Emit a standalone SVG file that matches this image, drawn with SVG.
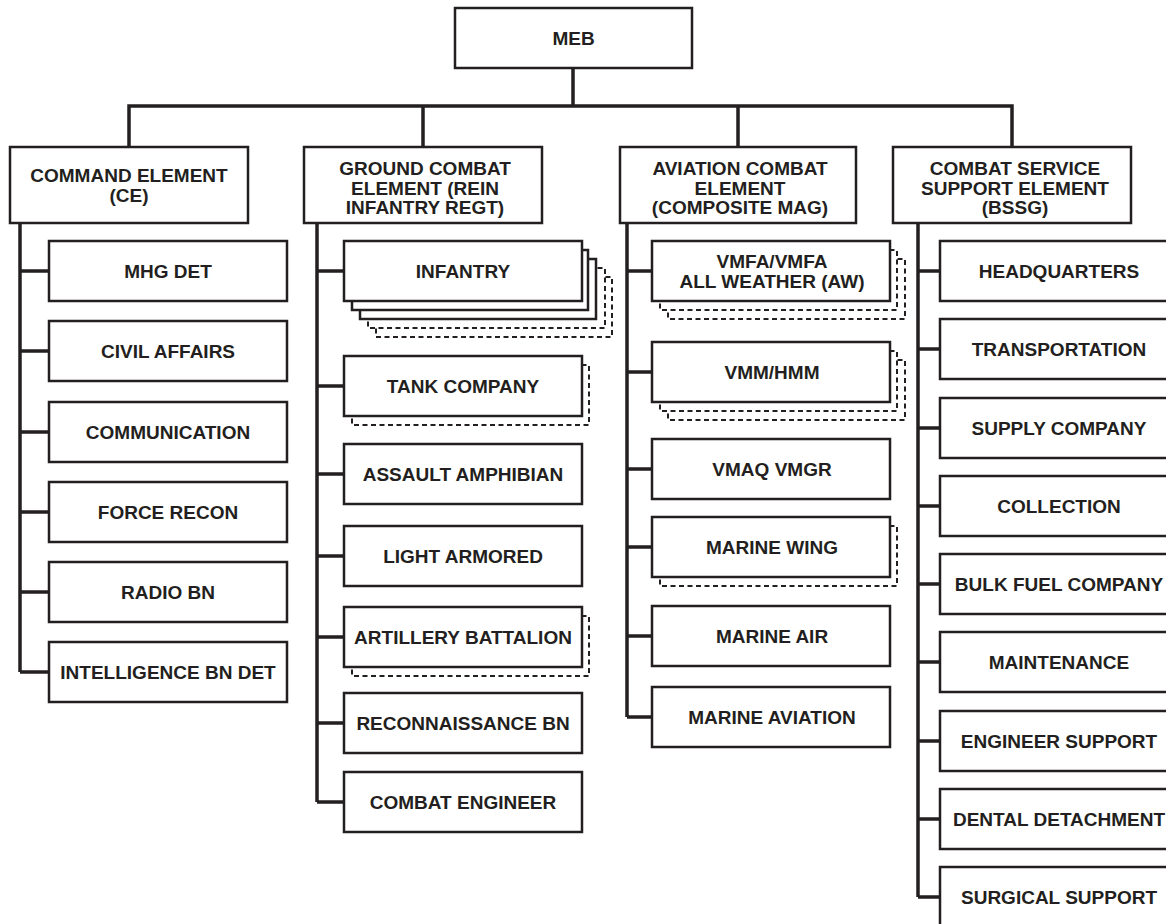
<svg xmlns="http://www.w3.org/2000/svg" width="1166" height="924" viewBox="0 0 1166 924">
<style>
.box{fill:#fff;stroke:#231f20;stroke-width:2.5}
.dash{fill:#fff;stroke:#231f20;stroke-width:2;stroke-dasharray:5 3.5}
.conn{fill:none;stroke:#231f20;stroke-width:3.5;stroke-linejoin:miter}
.t{font-family:"Liberation Sans",Arial,Helvetica,sans-serif;font-weight:bold;font-size:19px;fill:#231f20;text-anchor:middle}
</style>
<rect width="1166" height="924" fill="#fff"/>
<g id="connectors">
<path class="conn" d="M573 68V106M129 147V106H1012V147M423 106V147M738 106V147"/>
<path class="conn" d="M20 223V672M20 271H49M20 351H49M20 432H49M20 512H49M20 592H49M20 672H49"/>
<path class="conn" d="M317 223V802M317 271H344M317 386H344M317 474H344M317 556H344M317 637H344M317 723H344M317 802H344"/>
<path class="conn" d="M627 223V717M627 271H652M627 372H652M627 469H652M627 547H652M627 636H652M627 717H652"/>
<path class="conn" d="M918 223V897M918 271H940M918 349H940M918 428H940M918 506H940M918 584H940M918 662H940M918 741H940M918 819H940M918 897H940"/>
</g>
<g id="meb"><rect class="box" x="455" y="8" width="237" height="60"/><text class="t" x="573.5" y="45">MEB</text></g>
<g id="ce"><rect class="box" x="10" y="147" width="238" height="76"/><text class="t" x="129" y="182">COMMAND ELEMENT</text><text class="t" x="129" y="201.5">(CE)</text></g>
<g id="gce"><rect class="box" x="304" y="147" width="238" height="76"/><text class="t" x="425" y="175">GROUND COMBAT</text><text class="t" x="425" y="195">ELEMENT (REIN</text><text class="t" x="425" y="214">INFANTRY REGT)</text></g>
<g id="ace"><rect class="box" x="620" y="147" width="236" height="76"/><text class="t" x="740" y="175">AVIATION COMBAT</text><text class="t" x="740" y="195">ELEMENT</text><text class="t" x="740" y="214">(COMPOSITE MAG)</text></g>
<g id="csse"><rect class="box" x="893" y="147" width="238" height="76"/><text class="t" x="1015" y="175">COMBAT SERVICE</text><text class="t" x="1015" y="195">SUPPORT ELEMENT</text><text class="t" x="1015" y="214">(BSSG)</text></g>

<g id="mhg-det"><rect class="box" x="49" y="241" width="238" height="60"/><text class="t" x="168" y="278">MHG DET</text></g>
<g id="civil-affairs"><rect class="box" x="49" y="321" width="238" height="60"/><text class="t" x="168" y="358">CIVIL AFFAIRS</text></g>
<g id="communication"><rect class="box" x="49" y="402" width="238" height="60"/><text class="t" x="168" y="439">COMMUNICATION</text></g>
<g id="force-recon"><rect class="box" x="49" y="482" width="238" height="60"/><text class="t" x="168" y="519">FORCE RECON</text></g>
<g id="radio-bn"><rect class="box" x="49" y="562" width="238" height="60"/><text class="t" x="168" y="599">RADIO BN</text></g>
<g id="intel-bn-det"><rect class="box" x="49" y="642" width="238" height="60"/><text class="t" x="168" y="679">INTELLIGENCE BN DET</text></g>

<g id="infantry">
<rect class="dash" x="376" y="277" width="236" height="60"/>
<rect class="dash" x="368" y="268" width="237" height="60"/>
<rect class="box" x="360" y="259" width="236" height="60"/>
<rect class="box" x="352" y="250" width="236" height="60"/>
<rect class="box" x="344" y="241" width="238" height="60"/>
<text class="t" x="463" y="278">INFANTRY</text></g>
<g id="tank-company">
<rect class="dash" x="352" y="365" width="237" height="60"/>
<rect class="box" x="344" y="356" width="238" height="60"/>
<text class="t" x="463" y="393">TANK COMPANY</text></g>
<g id="assault-amphibian"><rect class="box" x="344" y="444" width="238" height="60"/><text class="t" x="463" y="481">ASSAULT AMPHIBIAN</text></g>
<g id="light-armored"><rect class="box" x="344" y="526" width="238" height="60"/><text class="t" x="463" y="563">LIGHT ARMORED</text></g>
<g id="artillery-battalion">
<rect class="dash" x="352" y="616" width="237" height="60"/>
<rect class="box" x="344" y="607" width="238" height="60"/>
<text class="t" x="463" y="644">ARTILLERY BATTALION</text></g>
<g id="reconnaissance-bn"><rect class="box" x="344" y="693" width="238" height="60"/><text class="t" x="463" y="730">RECONNAISSANCE BN</text></g>
<g id="combat-engineer"><rect class="box" x="344" y="772" width="238" height="60"/><text class="t" x="463" y="809">COMBAT ENGINEER</text></g>

<g id="vmfa">
<rect class="dash" x="668" y="259" width="237" height="60"/>
<rect class="dash" x="660" y="250" width="237" height="60"/>
<rect class="box" x="652" y="241" width="238" height="60"/>
<text class="t" x="772" y="268">VMFA/VMFA</text><text class="t" x="772" y="288">ALL WEATHER (AW)</text></g>
<g id="vmm-hmm">
<rect class="dash" x="668" y="360" width="237" height="60"/>
<rect class="dash" x="660" y="351" width="237" height="60"/>
<rect class="box" x="652" y="342" width="238" height="60"/>
<text class="t" x="772" y="379">VMM/HMM</text></g>
<g id="vmaq-vmgr"><rect class="box" x="652" y="439" width="238" height="60"/><text class="t" x="772" y="476">VMAQ VMGR</text></g>
<g id="marine-wing">
<rect class="dash" x="660" y="526" width="237" height="60"/>
<rect class="box" x="652" y="517" width="238" height="60"/>
<text class="t" x="772" y="554">MARINE WING</text></g>
<g id="marine-air"><rect class="box" x="652" y="606" width="238" height="60"/><text class="t" x="772" y="643">MARINE AIR</text></g>
<g id="marine-aviation"><rect class="box" x="652" y="687" width="238" height="60"/><text class="t" x="772" y="724">MARINE AVIATION</text></g>

<g id="headquarters"><rect class="box" x="940" y="241" width="238" height="60"/><text class="t" x="1059" y="278">HEADQUARTERS</text></g>
<g id="transportation"><rect class="box" x="940" y="319" width="238" height="60"/><text class="t" x="1059" y="356">TRANSPORTATION</text></g>
<g id="supply-company"><rect class="box" x="940" y="398" width="238" height="60"/><text class="t" x="1059" y="435">SUPPLY COMPANY</text></g>
<g id="collection"><rect class="box" x="940" y="476" width="238" height="60"/><text class="t" x="1059" y="513">COLLECTION</text></g>
<g id="bulk-fuel-company"><rect class="box" x="940" y="554" width="238" height="60"/><text class="t" x="1059" y="591">BULK FUEL COMPANY</text></g>
<g id="maintenance"><rect class="box" x="940" y="632" width="238" height="60"/><text class="t" x="1059" y="669">MAINTENANCE</text></g>
<g id="engineer-support"><rect class="box" x="940" y="711" width="238" height="60"/><text class="t" x="1059" y="748">ENGINEER SUPPORT</text></g>
<g id="dental-detachment"><rect class="box" x="940" y="789" width="238" height="60"/><text class="t" x="1059" y="826">DENTAL DETACHMENT</text></g>
<g id="surgical-support"><rect class="box" x="940" y="867" width="238" height="60"/><text class="t" x="1059" y="904">SURGICAL SUPPORT</text></g>
</svg>
